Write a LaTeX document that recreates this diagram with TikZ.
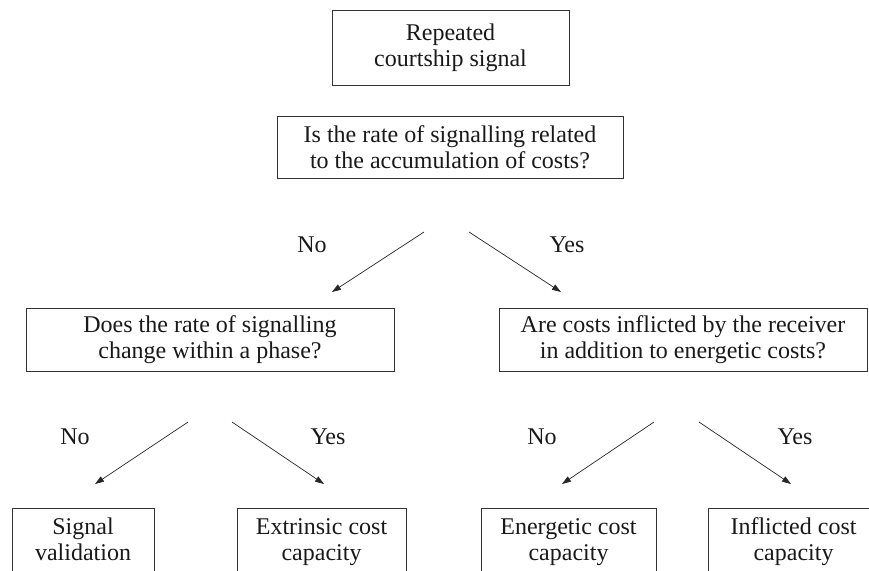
\documentclass[tikz,border=0pt]{standalone}
\usepackage{fontspec}
\setmainfont{Liberation Serif}
\usetikzlibrary{arrows.meta}
\begin{document}
\begin{tikzpicture}[x=1pt,y=-1pt,
  txt/.style={align=center,inner sep=0pt,font=\fontsize{24}{26}\selectfont,text=black!90},
  btxt/.style={txt,text height=40pt,text depth=7pt},
  box/.style={txt,draw=black!80,line width=1pt},
  frame/.style={draw=black!80,line width=1pt,inner sep=0pt},
  lbl/.style={inner sep=0pt,font=\fontsize{24}{26}\selectfont,text=black!90,anchor=base},
  arr/.style={draw=black!85,line width=0.7pt,-{Triangle[length=9pt,width=6pt]}}]
\useasboundingbox (0,0) rectangle (869,570);
\clip (0,0) rectangle (869,570);
% top boxes
\node[box,minimum width=237pt,minimum height=75pt] (b1) at (450.5,47.5) {Repeated\\courtship signal};
\node[box,minimum width=346pt,minimum height=62pt] (b2) at (450,147) {Is the rate of signalling related\\to the accumulation of costs?};
\node[box,minimum width=368pt,minimum height=63pt] (b3) at (210,339.5) {Does the rate of signalling\\change within a phase?};
\node[box,minimum width=368pt,minimum height=63pt] (b4) at (683,339.5) {Are costs inflicted by the receiver\\in addition to energetic costs?};
% bottom boxes (cut off by the lower edge)
\node[frame,anchor=north,minimum width=142pt,minimum height=100pt] (b5) at (83,508) {};
\node[frame,anchor=north,minimum width=169pt,minimum height=100pt] (b6) at (321.5,508) {};
\node[frame,anchor=north,minimum width=175pt,minimum height=100pt] (b7) at (568.5,508) {};
\node[frame,anchor=north,minimum width=190pt,minimum height=100pt] (b8) at (803,508) {};
\node[btxt] (t5) at (83,544) {Signal\\validation};
\node[btxt] (t6) at (321.5,544) {Extrinsic cost\\capacity};
\node[btxt] (t7) at (568.5,544) {Energetic cost\\capacity};
\node[btxt] (t8) at (793.5,544) {Inflicted cost\\capacity};
% arrow end points
\coordinate (a1s) at (424,232); \coordinate (a1e) at (332,292);
\coordinate (a2s) at (469,232); \coordinate (a2e) at (561,292);
\coordinate (a3s) at (188,422); \coordinate (a3e) at (95,484);
\coordinate (a4s) at (232,422); \coordinate (a4e) at (324,484);
\coordinate (a5s) at (654,422); \coordinate (a5e) at (562,484);
\coordinate (a6s) at (699,422); \coordinate (a6e) at (791,484);
\draw[arr] (a1s) -- (a1e);
\draw[arr] (a2s) -- (a2e);
\draw[arr] (a3s) -- (a3e);
\draw[arr] (a4s) -- (a4e);
\draw[arr] (a5s) -- (a5e);
\draw[arr] (a6s) -- (a6e);
% labels
\node[lbl] (n1) at (312,252) {No};
\node[lbl] (y1) at (567,252) {Yes};
\node[lbl] (n2) at (75,444) {No};
\node[lbl] (y2) at (328,444) {Yes};
\node[lbl] (n3) at (542,444) {No};
\node[lbl] (y3) at (795,444) {Yes};
\end{tikzpicture}
\end{document}
